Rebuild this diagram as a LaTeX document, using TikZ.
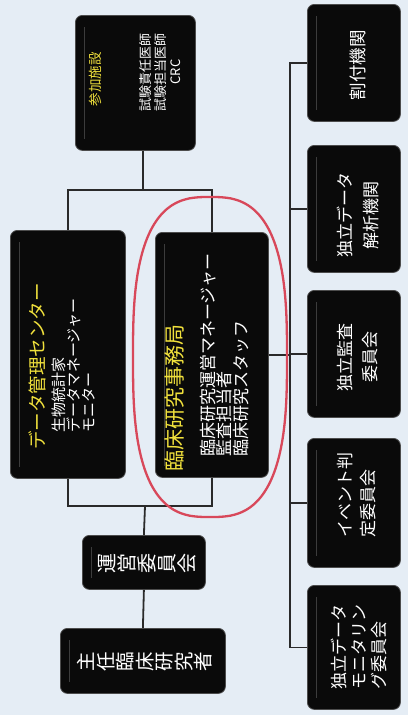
\documentclass[tikz,border=0pt]{standalone}
\usepackage{fontspec}
\setmainfont{Noto Sans CJK JP}
\definecolor{bg}{HTML}{E5EDF5}
\definecolor{ttl}{HTML}{F0E03C}
\definecolor{ln}{HTML}{2A2A2A}
\definecolor{oval}{HTML}{D8485A}
\definecolor{gloss}{HTML}{3C3C3C}
\usetikzlibrary{calc}
\newcommand{\bx}[5]{%
  \node[box, minimum width=#4pt, minimum height=#5pt] (#1) at (#2,-#3) {};
  \draw[glossline] ($(#1.north west)+(9,-12)$) -- ($(#1.south west)+(9,12)$);}
\tikzset{
  box/.style={draw=black!70, line width=0.8pt, fill=black!96, rounded corners=7pt, inner sep=0pt, anchor=north west},
  glossline/.style={draw=gloss, line width=1pt},
  conn/.style={draw=ln, line width=1.8pt},
  vt/.style={rotate=90, inner sep=0pt, text=white},
  ttltext/.style={vt, text=ttl},
}
\begin{document}
\begin{tikzpicture}[x=1pt, y=1pt]
\useasboundingbox (0,0) rectangle (408,-715);
\fill[bg] (0,0) rectangle (408,-715);

\coordinate (jtop) at (143,-190);
\coordinate (jbot) at (145,-506);
\coordinate (sp) at (290,0);

\bx{sanka}{75}{15}{120}{135}
\bx{dc}{10}{230}{115}{248}
\bx{jim}{155}{232}{113}{245}
\bx{unei}{82}{535}{123}{54}
\bx{shunin}{60}{628}{165}{65}
\bx{wari}{307}{4}{93}{117}
\bx{kaiseki}{307}{145}{93}{127}
\bx{kansa}{307}{290}{93}{127}
\bx{event}{307}{438}{93}{129}
\bx{moni}{307}{585}{93}{124}

\draw[conn] (jtop |- sanka.south) -- (jtop);
\draw[conn] (dc.north) |- (jtop) -| (jim.north);
\draw[conn] (dc.south) |- (jbot) -| (jim.south);
\draw[conn] (jbot) -- (unei.north);
\draw[conn] (unei.south) -- (shunin.north);
\draw[conn] (jim.east) -- (jim.east -| sp);
\draw[conn] (wari.west) -- (wari.west -| sp) -- (moni.west -| sp) -- (moni.west);
\draw[conn] (kaiseki.west) -- (kaiseki.west -| sp);
\draw[conn] (kansa.west) -- (kansa.west -| sp);
\draw[conn] (event.west) -- (event.west -| sp);

\node[ttltext, font=\fontsize{13.5}{15}\selectfont] (tsanka) at (95,-79) {参加施設};
\node[vt, align=center, font=\fontsize{13}{15}\selectfont] (ssanka) at (160,-72) {試験責任医師\\試験担当医師\\CRC};

\node[ttltext, anchor=west, font=\fontsize{18.5}{20}\selectfont] (tdc) at (37,-450) {データ管理センター};
\node[vt, anchor=west, align=left, font=\fontsize{15}{15}\selectfont] (sdc) at (73.5,-433) {生物統計家\\データマネージャー\\モニター};

\node[ttltext, anchor=west, font=\fontsize{21}{23}\selectfont] (tjim) at (175,-472) {臨床研究事務局};
\node[vt, anchor=west, align=left, font=\fontsize{17}{16.5}\selectfont] (sjim) at (224.5,-457) {臨床研究運営マネージャー\\監査担当者\\臨床研究スタッフ};

\node[vt, font=\fontsize{17.5}{19}\selectfont] (twari) at (358,-65) {割付機関};
\node[vt, align=center, font=\fontsize{17}{26}\selectfont] (tkaiseki) at (358,-215) {独立データ\\解析機関};
\node[vt, align=center, font=\fontsize{17}{25}\selectfont] (tkansa) at (358,-357) {独立監査\\委員会};
\node[vt, anchor=west, align=left, font=\fontsize{17}{23}\selectfont] (tevent) at (356.5,-538) {イベント判\\定委員会};
\node[vt, anchor=west, align=left, font=\fontsize{17}{20}\selectfont] (tmoni) at (359,-690) {独立データ\\モニタリン\\グ委員会};

\node[vt, align=center, font=\fontsize{20}{20}\selectfont] (tunei) at (147,-563) {運\\営\\委\\員\\会};
\node[vt, align=center, font=\fontsize{19.5}{19.5}\selectfont] (tshunin) at (145,-662) {主\\任\\臨\\床\\研\\究\\者};

\draw[oval, line width=2.3pt] plot[domain=1:359, samples=180, smooth]
  ({210+77*sign(cos(\x))*abs(cos(\x))^(0.714)}, {-357+160*sign(sin(\x))*abs(sin(\x))^(0.714)}) -- cycle;
\end{tikzpicture}
\end{document}
